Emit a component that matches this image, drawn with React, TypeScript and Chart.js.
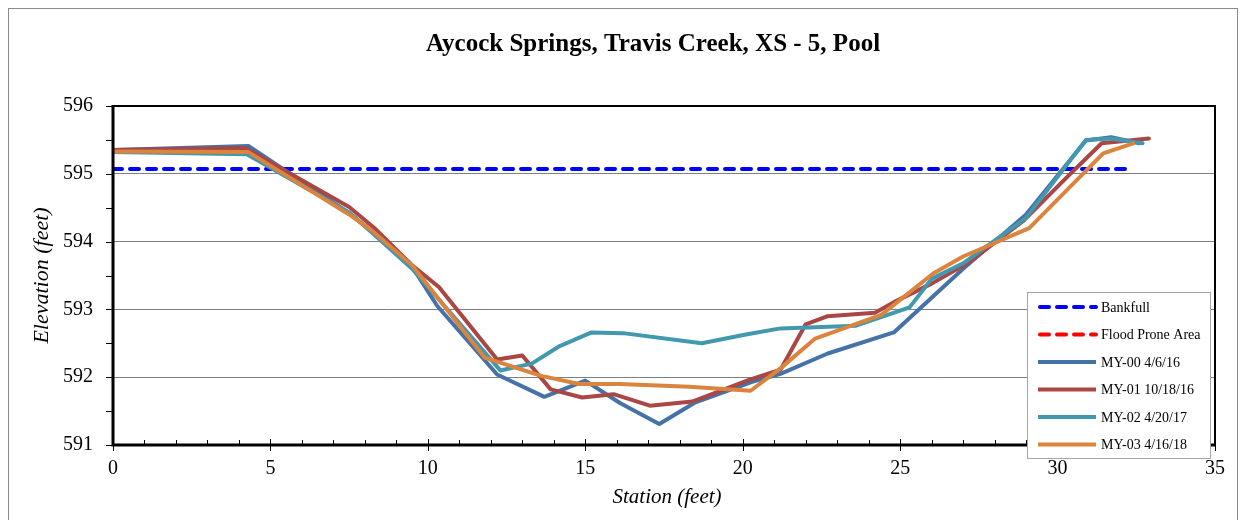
import React, { useEffect, useRef } from "react";
import { Chart, registerables } from "chart.js";

Chart.register(...registerables);

const TITLE = "Aycock Springs, Travis Creek, XS - 5, Pool";
const X_TITLE = "Station (feet)";
const Y_TITLE = "Elevation (feet)";

const X_MIN = 0;
const X_MAX = 35;
const X_STEP = 5;
const Y_MIN = 591;
const Y_MAX = 596;
const Y_STEP = 1;

const bankfullStations = [0, 32.2];
const bankfullElev = [595.07, 595.07];

const floodStations: number[] = [];
const floodElev: number[] = [];

const my00Stations = [0, 4.3, 7.5, 8.3, 9.4, 10.3, 12.2, 13.7, 15.0, 16.1, 17.35, 18.5, 20.3, 21.2, 22.7, 24.8, 27.0, 29.0, 30.9, 31.7, 32.6];
const my00Elev = [595.35, 595.41, 594.42, 594.12, 593.7, 593.05, 592.04, 591.71, 591.95, 591.62, 591.31, 591.63, 591.93, 592.05, 592.35, 592.66, 593.6, 594.4, 595.49, 595.54, 595.45];

const my01Stations = [0, 4.2, 7.5, 8.3, 9.5, 10.35, 12.2, 13.0, 13.9, 14.9, 15.9, 17.05, 18.4, 20.2, 21.2, 22.0, 22.7, 24.2, 24.9, 26.0, 27.2, 28.9, 30.3, 31.4, 32.9];
const my01Elev = [595.35, 595.38, 594.51, 594.2, 593.65, 593.33, 592.26, 592.32, 591.82, 591.7, 591.75, 591.58, 591.64, 591.96, 592.11, 592.78, 592.9, 592.95, 593.13, 593.38, 593.7, 594.3, 594.95, 595.45, 595.52];

const my02Stations = [0, 4.25, 7.5, 8.3, 9.5, 10.4, 12.3, 13.3, 14.15, 15.2, 16.2, 18.7, 20.1, 21.2, 23.6, 25.3, 26.0, 27.0, 29.0, 30.9, 31.7, 32.7];
const my02Elev = [595.32, 595.29, 594.43, 594.1, 593.6, 593.12, 592.1, 592.2, 592.45, 592.66, 592.65, 592.5, 592.63, 592.72, 592.76, 593.03, 593.45, 593.68, 594.35, 595.5, 595.52, 595.45];

const my03Stations = [0, 4.3, 7.5, 8.2, 9.5, 11.8, 13.6, 14.8, 16.1, 18.3, 20.25, 21.2, 22.3, 24.4, 26.05, 27.0, 29.1, 31.45, 32.4];
const my03Elev = [595.33, 595.32, 594.4, 594.17, 593.65, 592.29, 592.02, 591.9, 591.9, 591.86, 591.8, 592.13, 592.57, 592.92, 593.53, 593.78, 594.2, 595.3, 595.45];

const SERIES_LABELS = ["Bankfull", "Flood Prone Area", "MY-00 4/6/16", "MY-01 10/18/16", "MY-02 4/20/17", "MY-03 4/16/18"];
const SERIES_COLORS = ["#0000FF", "#FF0000", "#4572A7", "#AA4643", "#4198AF", "#DB843D"];

const pts = (xs: number[], ys: number[]) => xs.map((x, i) => ({ x, y: ys[i] }));

const SERIF = "'Liberation Serif', 'Times New Roman', serif";

const decor = {
  id: "decor",
  beforeDraw(chart: any) {
    const ctx = chart.ctx;
    ctx.save();
    ctx.fillStyle = "#ffffff";
    ctx.fillRect(0, 0, chart.width, chart.height);
    ctx.restore();
  },
  afterDraw(chart: any) {
    const ctx = chart.ctx as CanvasRenderingContext2D;
    const a = chart.chartArea;
    const xs = chart.scales.x;
    const ys = chart.scales.y;
    ctx.save();

    // outer frame
    ctx.strokeStyle = "#8c8c8c";
    ctx.lineWidth = 1;
    ctx.strokeRect(8.5, 8.5, 1229, 600);

    // plot frame
    ctx.strokeStyle = "#000";
    ctx.lineWidth = 2;
    ctx.strokeRect(a.left, a.top, a.right - a.left, a.bottom - a.top);
    ctx.lineWidth = 3;
    ctx.beginPath();
    ctx.moveTo(a.left, a.top - 1);
    ctx.lineTo(a.left, a.bottom);
    ctx.lineTo(a.right + 1, a.bottom);
    ctx.stroke();

    // y ticks (major + minor every 0.5)
    ctx.lineWidth = 1;
    for (let v = Y_MIN; v <= Y_MAX + 1e-9; v += 0.5) {
      const py = Math.round(ys.getPixelForValue(v)) + 0.5;
      ctx.beginPath();
      ctx.moveTo(a.left - 7, py);
      ctx.lineTo(a.left, py);
      ctx.stroke();
    }
    // x ticks: major cross, minor inside
    for (let v = X_MIN; v <= X_MAX + 1e-9; v += 1) {
      const px = Math.round(xs.getPixelForValue(v)) + 0.5;
      const major = Math.abs(v % X_STEP) < 1e-9;
      ctx.beginPath();
      ctx.moveTo(px, major ? a.bottom - 6 : a.bottom - 5);
      ctx.lineTo(px, major ? a.bottom + 6 : a.bottom);
      ctx.stroke();
    }

    // titles
    ctx.fillStyle = "#000";
    ctx.textAlign = "center";
    ctx.textBaseline = "middle";
    ctx.font = `bold 25px ${SERIF}`;
    ctx.fillText(TITLE, 653, 45);
    ctx.font = `italic 21px ${SERIF}`;
    ctx.fillText(X_TITLE, (a.left + a.right) / 2 + 3, 497);
    ctx.save();
    ctx.font = `italic 22px ${SERIF}`;
    ctx.translate(42, (a.top + a.bottom) / 2);
    ctx.rotate(-Math.PI / 2);
    ctx.fillText(Y_TITLE, 0, 0);
    ctx.restore();

    // legend
    const lx = 1027.5, ly = 292.5, lw = 183, lh = 166;
    ctx.fillStyle = "#fff";
    ctx.fillRect(lx, ly, lw, lh);
    ctx.strokeStyle = "#a6a6a6";
    ctx.lineWidth = 1;
    ctx.strokeRect(lx, ly, lw, lh);
    ctx.font = `14px ${SERIF}`;
    ctx.textAlign = "left";
    ctx.textBaseline = "middle";
    SERIES_LABELS.forEach((label, i) => {
      const yy = 307 + i * 27.5;
      ctx.strokeStyle = SERIES_COLORS[i];
      ctx.lineWidth = 4;
      ctx.lineCap = i < 2 ? "round" : "butt";
      ctx.setLineDash(i < 2 ? [9, 8] : []);
      ctx.beginPath();
      ctx.moveTo(i < 2 ? 1040 : 1038, yy);
      ctx.lineTo(1096, yy);
      ctx.stroke();
      ctx.setLineDash([]);
      ctx.fillStyle = "#000";
      ctx.fillText(label, 1101, yy + 1);
    });

    ctx.restore();
  },
};

export default function App() {
  const ref = useRef<HTMLCanvasElement | null>(null);

  useEffect(() => {
    if (!ref.current) return;
    const lineDs = (i: number, data: any[], order: number, dashed = false) => ({
      label: SERIES_LABELS[i],
      data,
      borderColor: SERIES_COLORS[i],
      backgroundColor: SERIES_COLORS[i],
      borderWidth: 4,
      borderDash: dashed ? [9, 8] : [],
      borderCapStyle: "round",
      borderJoinStyle: "round",
      pointRadius: 0,
      fill: false,
      tension: 0,
      order,
    });
    const chart = new Chart(ref.current, {
      type: "line",
      data: {
        datasets: [
          lineDs(0, pts(bankfullStations, bankfullElev), 6, true),
          lineDs(1, pts(floodStations, floodElev), 5, true),
          lineDs(2, pts(my00Stations, my00Elev), 4),
          lineDs(3, pts(my01Stations, my01Elev), 3),
          lineDs(4, pts(my02Stations, my02Elev), 2),
          lineDs(5, pts(my03Stations, my03Elev), 1),
        ] as any,
      },
      options: {
        animation: false,
        responsive: false,
        layout: { padding: { left: 0, right: 30, top: 106, bottom: 0 } },
        plugins: {
          legend: { display: false },
          title: { display: false },
          tooltip: { enabled: false },
        },
        scales: {
          x: {
            type: "linear",
            min: X_MIN,
            max: X_MAX,
            afterFit: (s: any) => { s.height = 75; },
            ticks: {
              stepSize: X_STEP,
              autoSkip: false,
              maxRotation: 0,
              padding: 12,
              color: "#000",
              font: { family: SERIF, size: 20 },
            },
            grid: { display: false, drawTicks: false },
            border: { display: false },
          },
          y: {
            type: "linear",
            min: Y_MIN,
            max: Y_MAX,
            afterFit: (s: any) => { s.width = 113; },
            ticks: {
              stepSize: Y_STEP,
              padding: 20,
              color: "#000",
              font: { family: SERIF, size: 20 },
            },
            grid: { display: true, color: "#7f7f7f", lineWidth: 1, drawTicks: false },
            border: { display: false },
          },
        },
      } as any,
      plugins: [decor],
    });
    return () => chart.destroy();
  }, []);

  return (
    <div style={{ position: "absolute", left: 0, top: 0, width: 1245, height: 520 }}>
      <canvas ref={ref} width={1245} height={520} style={{ display: "block" }} />
    </div>
  );
}
